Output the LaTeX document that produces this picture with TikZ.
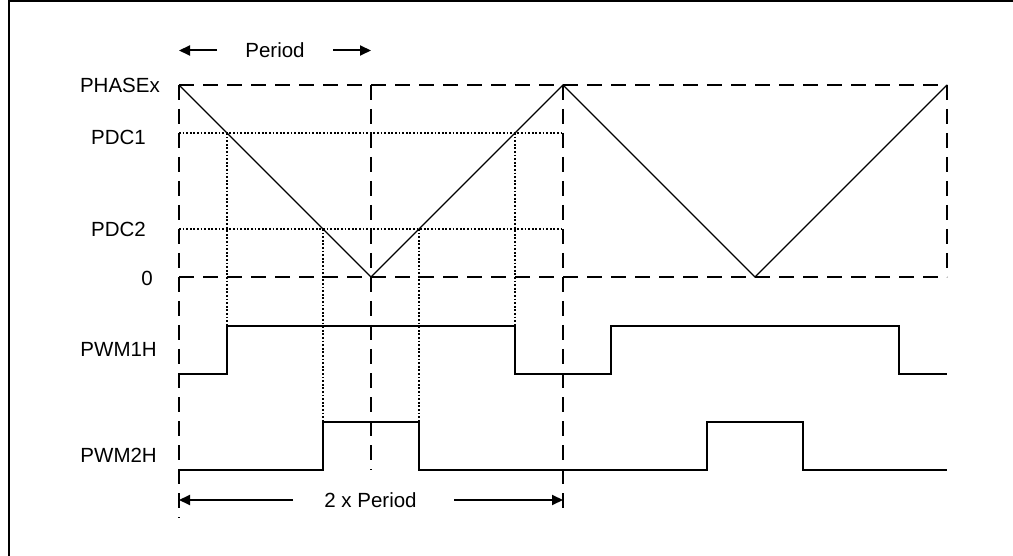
\documentclass[tikz,border=0pt]{standalone}
\usepackage{fontspec}
\setmainfont{Liberation Sans}
\usetikzlibrary{arrows.meta}
\begin{document}
\begin{tikzpicture}[x=1pt,y=-1pt,
  lbl/.style={font=\fontsize{20.5}{24}\selectfont, inner sep=0pt},
  dsh/.style={line width=2pt, dash pattern=on 15pt off 9pt},
  dotl/.style={line width=1.8pt, dash pattern=on 1.8pt off 1.8pt},
  tri/.style={line width=1.3pt},
  sig/.style={line width=2.5pt, line join=miter},
  dim/.style={line width=2pt, -{Triangle[length=11pt,width=10pt]}},
  frm/.style={line width=2.5pt}]
\useasboundingbox (0,0) rectangle (1013,556);
% frame (top and left edges)
\draw[frm] (9,556) -- (9,1) -- (1013,1);
% key coordinates
\coordinate (T0) at (179,85);
\coordinate (T1) at (563,85);
\coordinate (T2) at (947,85);
\coordinate (Z0) at (179,277);
\coordinate (Z1) at (371,277);
\coordinate (Z2) at (755,277);
\coordinate (Z3) at (947,277);
% dashed reference frame
\draw[dsh] (T0) -- (T2);
\draw[dsh] (Z0) -- (Z3);
\draw[dsh] (T0) -- (179,518);
\draw[dsh] (371,85) -- (371,470);
\draw[dsh] (T1) -- (563,513);
\draw[dsh] (T2) -- (Z3);
% dotted compare levels
\draw[dotl] (179,133) -- (563,133);
\draw[dotl] (179,229) -- (563,229);
\draw[dotl] (227,133) -- (227,326);
\draw[dotl] (515,133) -- (515,326);
\draw[dotl] (323,229) -- (323,422);
\draw[dotl] (419,229) -- (419,422);
% triangle counter
\draw[tri] (T0) -- (Z1) -- (T1) -- (Z2) -- (T2);
% PWM1H
\draw[sig] (179,374) -- (227,374) -- (227,326) -- (515,326) -- (515,374) -- (611,374) -- (611,326) -- (899,326) -- (899,374) -- (947,374);
% PWM2H
\draw[sig] (179,470) -- (323,470) -- (323,422) -- (419,422) -- (419,470) -- (707,470) -- (707,422) -- (803,422) -- (803,470) -- (947,470);
% labels
\node[lbl, anchor=east] (phx) at (160,85) {PHASEx};
\node[lbl, anchor=east] (pdc1) at (146,137) {PDC1};
\node[lbl, anchor=east] (pdc2) at (146,229) {PDC2};
\node[lbl, anchor=east] (zero) at (153,278) {0};
\node[lbl, anchor=east] (pwm1) at (157,349) {PWM1H};
\node[lbl, anchor=east] (pwm2) at (157,455) {PWM2H};
% period dimension
\node[lbl] (per) at (275,50.5) {Period};
\coordinate (pl0) at (217,50.5);
\coordinate (pl1) at (179,50.5);
\coordinate (pr0) at (333,50.5);
\coordinate (pr1) at (371,50.5);
\draw[dim] (pl0) -- (pl1);
\draw[dim] (pr0) -- (pr1);
% 2 x period dimension
\node[lbl] (per2) at (370.5,500) {2 x Period};
\coordinate (ql0) at (293,500);
\coordinate (ql1) at (179,500);
\coordinate (qr0) at (454,500);
\coordinate (qr1) at (563,500);
\draw[dim] (ql0) -- (ql1);
\draw[dim] (qr0) -- (qr1);
\end{tikzpicture}
\end{document}
